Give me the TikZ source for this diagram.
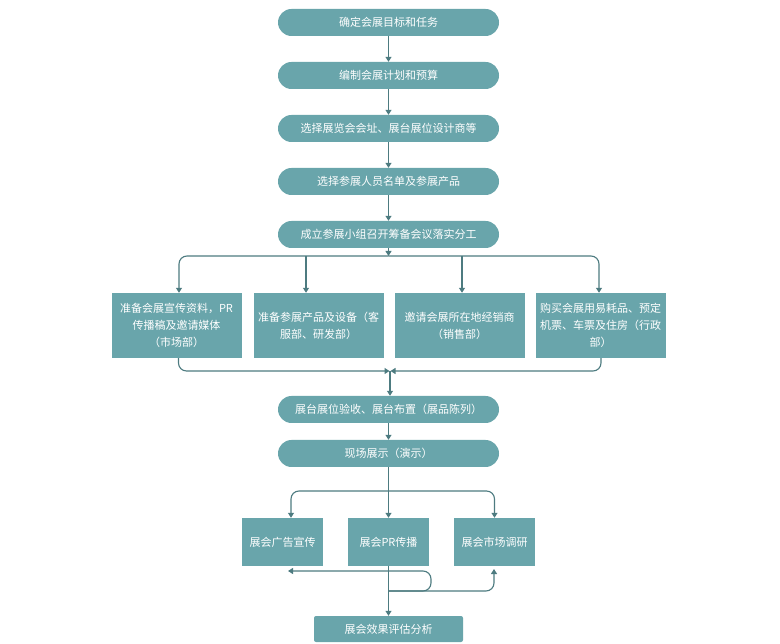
\documentclass[tikz,border=0pt]{standalone}
\usepackage{fontspec}
\setmainfont{Noto Sans CJK SC}
\usetikzlibrary{arrows.meta}

\definecolor{boxfill}{HTML}{69A5AB}
\definecolor{linecol}{HTML}{4D7B80}

\tikzset{
  pill/.style={fill=boxfill, text=white, rounded corners=13.5pt,
    minimum width=221pt, minimum height=27pt, inner sep=0pt},
  task/.style={fill=boxfill, text=white, align=center,
    minimum width=130pt, minimum height=65pt, inner sep=2pt},
  subtask/.style={fill=boxfill, text=white,
    minimum width=81pt, minimum height=48pt, inner sep=0pt},
  link/.style={draw=linecol, line width=1.1pt},
  conn/.style={link, -{Triangle[width=6pt,length=5pt]}},
}

\begin{document}
\begin{tikzpicture}[font=\fontsize{11pt}{17pt}\selectfont, x=1pt, y=-1pt]
  \useasboundingbox (0,0) rectangle (780,644);
  % main steps
  \node[pill] (p1) at (388.5,22.5) {确定会展目标和任务};
  \node[pill] (p2) at (388.5,75.5) {编制会展计划和预算};
  \node[pill] (p3) at (388.5,128.5) {选择展览会会址、展台展位设计商等};
  \node[pill] (p4) at (388.5,181.5) {选择参展人员名单及参展产品};
  \node[pill] (p5) at (388.5,234.5) {成立参展小组召开筹备会议落实分工};
  \draw[conn] (p1) -- (p2);
  \draw[conn] (p2) -- (p3);
  \draw[conn] (p3) -- (p4);
  \draw[conn] (p4) -- (p5);
  % tasks per department
  \node[task] (t1) at (176.5,325.5) {准备会展宣传资料，PR\\传播稿及邀请媒体\\（市场部）};
  \node[task] (t2) at (318.5,325.5) {准备参展产品及设备（客\\服部、研发部）};
  \node[task] (t3) at (459.5,325.5) {邀请会展所在地经销商\\（销售部）};
  \node[task] (t4) at (600.5,325.5) {购买会展用易耗品、预定\\机票、车票及住房（行政\\部）};
  % fan out
  \coordinate (split) at (388.5,256);
  \draw[conn] (p5) -- (split);
  \draw[conn, rounded corners=8pt] (split) -| ([xshift=2.5pt]t1.north);
  \draw[conn] ([xshift=-12.5pt]t2.north |- split) -- ([xshift=-12.5pt]t2.north);
  \draw[conn] ([xshift=2.5pt]t3.north |- split) -- ([xshift=2.5pt]t3.north);
  \draw[conn, rounded corners=8pt] (split) -| ([xshift=-1.5pt]t4.north);
  % merge
  \coordinate (join) at (390,371);
  \node[pill] (p6) at (388.5,409.5) {展台展位验收、展台布置（展品陈列）};
  \node[pill] (p7) at (388.5,453.5) {现场展示（演示）};
  \draw[conn, rounded corners=8pt] ([xshift=2pt]t1.south) |- ([xshift=-0.5pt]join);
  \draw[conn, rounded corners=8pt] ([xshift=0.5pt]t4.south) |- ([xshift=0.5pt]join);
  \draw[conn] (join) -- (join |- p6.north);
  \draw[conn] (p6) -- (p7);
  % on-site activities
  \node[subtask] (s1) at (282.5,542) {展会广告宣传};
  \node[subtask] (s2) at (388.5,542) {展会PR传播};
  \node[subtask] (s3) at (494.5,542) {展会市场调研};
  \coordinate (split2) at (388.5,491);
  \draw[link] (p7) -- (split2);
  \draw[conn, rounded corners=8pt] (split2) -| ([xshift=8.5pt]s1.north);
  \draw[conn] (split2) -- (s2);
  \draw[conn, rounded corners=8pt] (split2) -| (s3.north);
  % evaluation
  \node[fill=boxfill, text=white, rounded corners=2pt, minimum width=149pt,
    minimum height=26pt, inner sep=0pt] (eval) at (388.5,629) {展会效果评估分析};
  \draw[conn] (s2) -- (eval);
  \coordinate (loop) at (388.5,591);
  \coordinate (s1back) at (288,571);
  \coordinate (s3back) at (494,569);
  \draw[conn, rounded corners=8pt] (loop) -- (431,591) -- (431,571) -- (s1back);
  \draw[conn, rounded corners=8pt] (loop) -| (s3back);
\end{tikzpicture}
\end{document}
